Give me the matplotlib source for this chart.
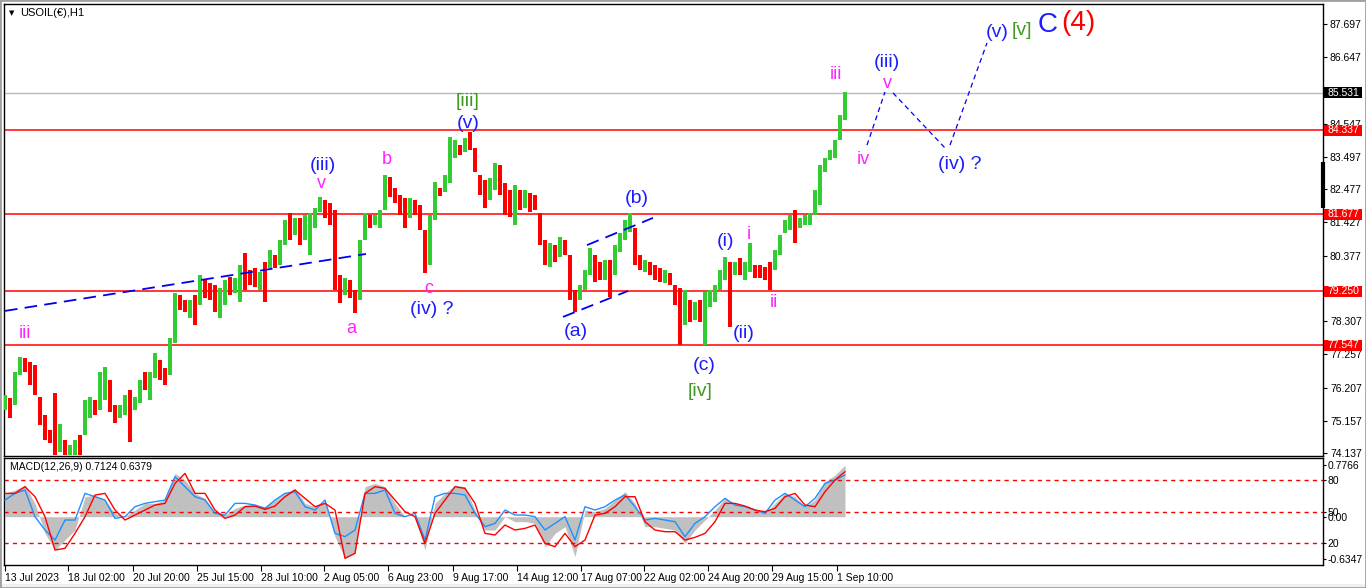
"""
USOIL H1 con conteggio d'onda (Elliott) e pannello MACD, stile MT4.
"""

import numpy as np
import matplotlib
matplotlib.use("Agg")
import matplotlib.pyplot as plt
from matplotlib.patches import Rectangle
from matplotlib.transforms import blended_transform_factory

# ---- prezzi (una barra ogni 5 ore) ----
BAR_STEP = 5

highs = [
    75.97, 75.88, 76.70, 77.17, 77.14, 77.01, 76.92, 75.91, 75.34, 74.86,
    76.04, 75.05, 74.55, 74.39, 74.55, 74.71, 75.81, 75.91, 75.81, 76.70,
    76.86, 76.45, 75.66, 75.66, 75.97, 76.13, 75.91, 76.45, 76.70, 76.70,
    77.30, 77.08, 76.83, 77.77, 79.20, 79.13, 78.97, 78.97, 79.13, 79.77,
    79.61, 79.51, 79.45, 79.36, 79.61, 79.70, 79.67, 80.08, 80.46, 79.92,
    79.99, 79.86, 80.18, 80.55, 80.40, 80.87, 81.50, 81.72, 81.57, 81.57,
    81.66, 81.72, 81.88, 82.23, 82.14, 82.04, 81.82, 79.77, 79.67, 79.61,
    79.29, 80.87, 81.72, 81.66, 81.66, 81.82, 82.92, 82.86, 82.51, 82.29,
    82.20, 82.20, 82.14, 81.98, 81.19, 81.66, 82.70, 82.51, 82.92, 84.13,
    84.03, 83.87, 84.09, 84.28, 83.78, 82.92, 82.77, 82.83, 83.30, 83.24,
    82.67, 82.45, 82.61, 82.45, 82.45, 82.36, 82.29, 81.72, 80.87, 80.78,
    80.71, 80.97, 80.87, 80.40, 79.29, 79.45, 79.92, 80.62, 80.40, 80.18,
    80.24, 80.24, 80.71, 81.09, 81.50, 81.72, 81.25, 80.40, 80.24, 80.18,
    80.08, 79.99, 79.92, 79.83, 79.45, 79.36, 79.29, 78.97, 78.91, 78.97,
    79.23, 79.29, 79.45, 79.92, 80.33, 80.18, 80.18, 80.30, 80.18, 80.78,
    80.08, 80.08, 80.02, 80.18, 80.55, 81.03, 81.50, 81.66, 81.82, 81.57,
    81.66, 81.72, 82.45, 83.24, 83.46, 83.72, 84.03, 84.82, 85.55,
]

lows = [
    75.50, 75.24, 75.66, 76.61, 76.70, 76.29, 75.97, 75.02, 74.55, 74.46,
    74.07, 74.17, 74.07, 74.07, 74.07, 74.07, 74.71, 75.24, 75.34, 75.50,
    75.81, 75.43, 75.09, 75.24, 75.34, 74.49, 75.50, 75.72, 76.13, 75.81,
    76.51, 76.45, 76.29, 76.61, 77.62, 78.66, 78.60, 78.40, 78.18, 78.82,
    79.04, 78.97, 78.60, 78.40, 78.82, 79.13, 79.20, 78.91, 79.29, 79.45,
    79.39, 79.29, 78.91, 79.99, 79.99, 80.08, 80.71, 80.87, 81.03, 80.71,
    80.87, 80.40, 81.25, 81.76, 81.57, 81.35, 79.29, 78.88, 79.13, 79.04,
    78.56, 78.97, 80.87, 81.25, 81.35, 81.25, 81.82, 82.23, 82.04, 81.66,
    81.25, 81.57, 81.66, 81.19, 79.83, 80.08, 81.50, 82.26, 82.39, 82.67,
    83.46, 83.56, 83.65, 83.72, 83.02, 82.29, 81.88, 82.14, 82.45, 82.29,
    81.66, 81.60, 81.35, 81.82, 81.88, 81.76, 81.82, 80.71, 80.08, 80.02,
    80.18, 80.33, 80.40, 78.97, 78.60, 78.97, 79.29, 79.77, 79.54, 79.61,
    79.61, 79.07, 79.77, 80.49, 80.87, 81.12, 80.08, 79.92, 79.86, 79.77,
    79.61, 79.54, 79.51, 79.45, 78.82, 77.55, 78.18, 78.28, 78.34, 78.28,
    77.55, 78.75, 78.91, 79.29, 79.61, 78.12, 79.77, 79.77, 79.61, 79.86,
    79.67, 79.67, 79.61, 79.29, 79.92, 80.40, 81.09, 81.19, 80.78, 81.25,
    81.35, 81.35, 81.66, 81.98, 83.02, 83.40, 83.46, 84.03, 84.66,
]

closes = [
    75.60, 75.35, 76.60, 77.05, 76.78, 76.40, 76.10, 75.10, 74.65, 74.55,
    74.20, 74.90, 74.15, 74.35, 74.45, 74.20, 75.70, 75.80, 75.45, 76.50,
    76.70, 75.60, 75.20, 75.55, 75.85, 75.80, 75.85, 76.35, 76.25, 76.55,
    77.15, 76.60, 76.40, 77.65, 79.05, 78.80, 78.70, 78.90, 78.45, 79.65,
    79.20, 79.10, 78.75, 79.20, 79.45, 79.25, 79.55, 79.95, 79.50, 79.48,
    79.45, 79.75, 79.40, 80.40, 80.10, 80.75, 81.40, 81.00, 81.45, 80.85,
    81.55, 81.65, 81.80, 82.10, 81.70, 81.45, 79.40, 79.00, 79.55, 79.15,
    78.70, 80.70, 81.50, 81.35, 81.55, 81.70, 82.70, 82.35, 82.15, 81.75,
    81.40, 82.05, 81.75, 81.30, 80.00, 81.50, 82.55, 82.35, 82.85, 83.90,
    83.95, 83.65, 83.95, 83.80, 83.10, 82.40, 82.00, 82.70, 83.15, 82.45,
    81.80, 81.75, 82.40, 82.00, 82.30, 81.90, 81.85, 80.85, 80.20, 80.60,
    80.30, 80.85, 80.50, 79.10, 78.75, 79.35, 79.80, 80.50, 79.70, 79.65,
    80.10, 79.30, 80.60, 80.95, 81.35, 81.55, 80.25, 80.05, 80.15, 79.90,
    79.75, 79.65, 79.85, 79.50, 78.95, 78.50, 78.90, 78.40, 78.80, 78.45,
    79.10, 79.20, 79.35, 79.80, 80.20, 79.40, 80.05, 79.85, 80.05, 80.10,
    79.80, 79.75, 79.70, 79.60, 80.45, 80.90, 81.40, 81.55, 81.05, 81.45,
    81.58, 81.65, 82.35, 83.10, 83.35, 83.60, 83.95, 84.70, 85.53,
]

level_lines = [84.337, 81.677, 79.250, 77.547]
last_price = 85.531
price_ticks = [87.697, 86.647, 84.547, 83.497, 82.477, 81.427, 80.377,
               78.307, 77.257, 76.207, 75.157, 74.137]

# ---- MACD (un punto ogni 10 ore) ----
MACD_STEP = 10

macd_hist = [
    0.35, 0.40, 0.475, 0.20, -0.25, -0.50, -0.35, -0.20, 0.30, 0.325,
    0.25, 0.05, 0.0, 0.10, 0.20, 0.20, 0.25, 0.65, 0.55, 0.35,
    0.275, 0.075, 0.025, 0.125, 0.175, 0.175, 0.15, 0.25, 0.35, 0.425,
    0.20, 0.15, 0.225, -0.30, -0.625, -0.55, 0.45, 0.50, 0.45, 0.20,
    0.0, 0.0, -0.50, 0.20, 0.35, 0.475, 0.45, 0.10, -0.20, -0.20,
    0.0, -0.075, -0.075, -0.10, -0.45, -0.25, -0.15, -0.60, 0.10, 0.075,
    0.125, 0.25, 0.375, 0.20, -0.15, -0.15, -0.175, -0.20, -0.40, -0.20,
    -0.05, 0.10, 0.275, 0.20, 0.15, 0.10, 0.05, 0.20, 0.35, 0.30,
    0.15, 0.25, 0.525, 0.625, 0.775,
]

macd_signal = [
    0.35, 0.35, 0.45, 0.30, 0.0, -0.50, -0.475, -0.25, 0.0, 0.325,
    0.35, 0.10, -0.05, 0.025, 0.10, 0.175, 0.20, 0.50, 0.65, 0.35,
    0.35, 0.10, -0.025, 0.025, 0.15, 0.16, 0.11, 0.16, 0.30, 0.40,
    0.275, 0.15, 0.20, 0.10, -0.625, -0.55, 0.35, 0.45, 0.425, 0.25,
    0.075, 0.0, -0.40, 0.05, 0.25, 0.45, 0.425, 0.20, -0.25, -0.275,
    -0.125, -0.20, -0.175, -0.125, -0.40, -0.45, -0.25, -0.45, -0.35, 0.025,
    0.05, 0.15, 0.30, 0.30, -0.075, -0.20, -0.225, -0.225, -0.35, -0.31,
    -0.25, -0.075, 0.20, 0.20, 0.16, 0.10, 0.075, 0.125, 0.30, 0.35,
    0.175, 0.15, 0.375, 0.55, 0.675,
]

macd_fast = [
    0.25, 0.35, 0.40, 0.0, -0.20, -0.35, -0.05, -0.05, 0.35, 0.30,
    0.25, -0.025, 0.0, 0.15, 0.20, 0.225, 0.25, 0.60, 0.45, 0.30,
    0.25, 0.05, 0.025, 0.20, 0.20, 0.175, 0.125, 0.25, 0.35, 0.375,
    0.15, 0.10, 0.25, -0.25, -0.30, -0.20, 0.35, 0.35, 0.40, 0.05,
    0.0, 0.05, -0.35, 0.30, 0.35, 0.35, 0.325, 0.05, -0.15, -0.10,
    0.10, 0.025, 0.025, 0.0, -0.20, -0.10, 0.0, -0.35, 0.15, 0.10,
    0.15, 0.25, 0.325, 0.15, -0.05, -0.025, -0.05, -0.075, -0.30, -0.10,
    0.0, 0.15, 0.275, 0.175, 0.15, 0.10, 0.05, 0.25, 0.35, 0.25,
    0.15, 0.275, 0.50, 0.55, 0.625,
]

macd_levels = [0.551, 0.071, -0.395]
macd_level_labels = ["80", "50", "20"]
macd_max, macd_min = 0.7766, -0.6347

date_ticks = [0, 63, 128, 192, 256, 319, 383, 448, 512, 576, 639, 703, 767, 832]
date_labels = ["13 Jul 2023", "18 Jul 02:00", "20 Jul 20:00", "25 Jul 15:00",
               "28 Jul 10:00", "2 Aug 05:00", "6 Aug 23:00", "9 Aug 17:00",
               "14 Aug 12:00", "17 Aug 07:00", "22 Aug 02:00", "24 Aug 20:00",
               "29 Aug 15:00", "1 Sep 10:00"]

# linee tratteggiate blu (ora, prezzo)
trend_lines = [
    [(0, 78.63), (361, 80.43)],
    [(582, 80.71), (648, 81.57)],
    [(558, 78.44), (623, 79.26)],
]
projection = [
    [(862, 83.87), (880, 85.55)],
    [(888, 85.52), (940, 83.78)],
    [(945, 83.87), (982, 87.10)],
]

BLUE, MAGENTA, GREEN, RED = "#1c1cff", "#ff22ff", "#3c9a1e", "#ff0000"

# (ora, prezzo, testo, colore, dimensione)
wave_labels = [
    (20, 77.93, "iii", MAGENTA, 13),
    (318, 83.21, "(iii)", BLUE, 14),
    (316, 82.67, "v", MAGENTA, 13),
    (346, 78.06, "a", MAGENTA, 13),
    (382, 83.43, "b", MAGENTA, 13),
    (424, 79.35, "c", MAGENTA, 13),
    (427, 78.66, "(iv) ?", BLUE, 14),
    (463, 85.26, "[iii]", GREEN, 14),
    (463, 84.54, "(v)", BLUE, 14),
    (632, 82.17, "(b)", BLUE, 14),
    (571, 77.99, "(a)", BLUE, 14),
    (699, 76.92, "(c)", BLUE, 14),
    (695, 76.07, "[iv]", GREEN, 14),
    (720, 80.81, "(i)", BLUE, 14),
    (744, 81.06, "i", MAGENTA, 13),
    (739, 77.90, "(ii)", BLUE, 14),
    (769, 78.88, "ii", MAGENTA, 13),
    (831, 86.09, "iii", MAGENTA, 13),
    (882, 86.47, "(iii)", BLUE, 14),
    (882, 85.83, "v", MAGENTA, 13),
    (858, 83.43, "iv", MAGENTA, 13),
    (955, 83.27, "(iv) ?", BLUE, 14),
    (992, 87.44, "(v)", BLUE, 14),
    (1017, 87.48, "[v]", GREEN, 14),
    (1043, 87.67, "C", BLUE, 20),
    (1073, 87.73, "(4)", RED, 20),
]

W, H = 1366, 588
XLIM = (-1, 1318)


def px_box(left, top, right, bottom):
    return [left / W, 1 - bottom / H, (right - left) / W, (bottom - top) / H]


def draw_price(ax):
    c = np.array(closes)
    o = np.r_[c[0], c[:-1]]
    hi = np.array(highs)
    lo = np.array(lows)
    x = np.arange(len(c)) * BAR_STEP
    colors = np.where(c >= o, "#32cd32", "#ff0000")
    ax.bar(x, hi - lo, bottom=lo, width=4.4, color=colors, linewidth=0, zorder=3)

    for lv in level_lines:
        ax.axhline(lv, color=RED, lw=1.1, zorder=2)
    ax.axhline(last_price, color="#b8b8b8", lw=1, zorder=1)

    for seg in trend_lines:
        xs, ys = zip(*seg)
        ax.plot(xs, ys, color="#0000ee", lw=1.3, ls=(0, (7, 4)), zorder=4)
    for seg in projection:
        xs, ys = zip(*seg)
        ax.plot(xs, ys, color="#0000ee", lw=0.9, ls=(0, (4, 3)), zorder=4)

    for hx, py, txt, col, size in wave_labels:
        ax.text(hx, py, txt, color=col, fontsize=size, ha="center", va="center", zorder=6)

    ax.set_xlim(*XLIM)
    ax.set_ylim(74.044, 88.33)
    ax.set_xticks([])
    ax.yaxis.tick_right()
    ax.set_yticks(price_ticks)
    ax.set_yticklabels([f"{t:.3f}" for t in price_ticks])
    ax.tick_params(axis="y", direction="out", length=3, width=0.8, pad=2, labelsize=7.5)

    # etichette colorate sull'asse dei prezzi
    trans = blended_transform_factory(ax.transAxes, ax.transData)
    box_w, box_h = 38 / 1319, 11 / 31.64
    tags = [(lv, RED) for lv in level_lines] + [(last_price, "black")]
    for lv, col in tags:
        ax.add_patch(Rectangle((1.0008, lv - box_h / 2), box_w, box_h, transform=trans,
                               facecolor=col, edgecolor="none", clip_on=False, zorder=9))
        ax.text(1.0035, lv, f"{lv:.3f}", transform=trans, color="white", fontsize=7.5,
                ha="left", va="center", clip_on=False, zorder=10)
    ax.plot([1.0, 1.0], [83.34, 81.88], transform=trans, color="black", lw=3,
            solid_capstyle="butt", clip_on=False, zorder=8)

    for sp in ax.spines.values():
        sp.set_color("black")
        sp.set_linewidth(1)


def draw_macd(ax):
    xm = np.arange(len(macd_hist)) * MACD_STEP
    ax.fill_between(xm, 0, macd_hist, color="#c0c0c0", lw=0, zorder=1)
    ax.plot(xm, macd_fast, color="#1e90ff", lw=1, zorder=3)
    ax.plot(xm, macd_signal, color="red", lw=1, zorder=4)
    for lv in macd_levels:
        ax.axhline(lv, color="red", lw=1, ls=(0, (3, 3)), zorder=2)

    ax.set_xlim(*XLIM)
    ax.set_ylim(-0.725, 0.881)
    ax.yaxis.tick_right()
    yt = [macd_max] + macd_levels[:2] + [0.0, macd_levels[2], macd_min]
    yl = [f"{macd_max:.4f}"] + macd_level_labels[:2] + ["0.00", macd_level_labels[2], f"{macd_min:.4f}"]
    ax.set_yticks(yt)
    ax.set_yticklabels(yl)
    ax.tick_params(axis="y", direction="out", length=2, width=0.8, pad=1.5, labelsize=7.5)

    ax.set_xticks(date_ticks)
    ax.set_xticklabels(date_labels)
    for lbl in ax.get_xticklabels():
        lbl.set_horizontalalignment("left")
    ax.tick_params(axis="x", direction="out", length=4, width=0.8, pad=2, labelsize=7.5)

    ax.text(0.0045, 0.915, "MACD(12,26,9) 0.7124 0.6379", transform=ax.transAxes,
            fontsize=7.5, ha="left", va="center", color="black")
    for sp in ax.spines.values():
        sp.set_color("black")
        sp.set_linewidth(1)


def main():
    plt.rcParams["font.family"] = ["Liberation Sans", "DejaVu Sans"]
    fig = plt.figure(figsize=(W / 100, H / 100), dpi=100, facecolor="white")

    ax_price = fig.add_axes(px_box(4, 4, 1323, 456))
    ax_macd = fig.add_axes(px_box(4, 458, 1323, 565))
    draw_price(ax_price)
    draw_macd(ax_macd)

    fig.text(12 / W, 1 - 13 / H, "\u25bc", fontsize=5, ha="center", va="center",
             family=["DejaVu Sans"])
    fig.text(20 / W, 1 - 13 / H, "USOIL(\u20ac),H1", fontsize=8, ha="left", va="center")

    # cornice finestra
    fig.patches.append(Rectangle((0, 0), 1, 4 / H, transform=fig.transFigure,
                                 facecolor="#f0f0f0", edgecolor="none", zorder=0))
    fig.patches.append(Rectangle((0, 0), 1, 1, transform=fig.transFigure, fill=False,
                                 edgecolor="#a0a0a0", lw=2, zorder=0))

    fig.savefig("out.png", dpi=100, facecolor="white")


if __name__ == "__main__":
    main()
